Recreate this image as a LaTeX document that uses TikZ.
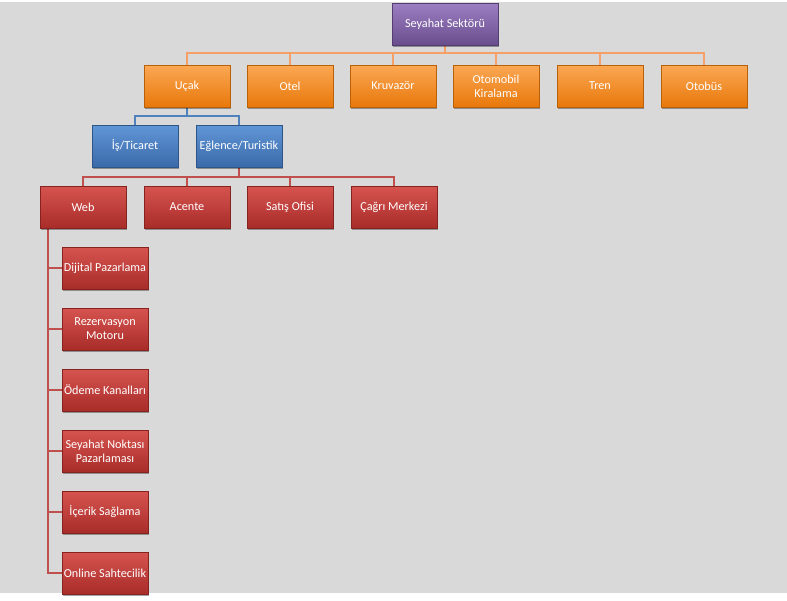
\documentclass[tikz,border=0pt]{standalone}
\usepackage{fontspec}
\setmainfont{Carlito}
\usetikzlibrary{shadows}
\pgfdeclarelayer{bgfill}
\pgfdeclarelayer{lines}
\pgfsetlayers{bgfill,lines,main}
\definecolor{bg}{HTML}{D9D9D9}
\definecolor{orT}{HTML}{FBA855}
\definecolor{orB}{HTML}{E8780A}
\definecolor{puT}{HTML}{9C7EC2}
\definecolor{puB}{HTML}{694E8D}
\definecolor{blT}{HTML}{6196D6}
\definecolor{blB}{HTML}{3A6AAA}
\definecolor{reT}{HTML}{D65450}
\definecolor{reB}{HTML}{A82C28}
\definecolor{orL}{HTML}{F4A066}
\definecolor{blL}{HTML}{4F81BD}
\definecolor{reL}{HTML}{C0504D}
\tikzset{
  x=1pt, y=-1pt,
  box/.style={minimum width=86pt, minimum height=42pt, inner sep=1pt,
    align=center, text=white, font=\fontsize{12.2}{14}\selectfont,
    draw=#1B!80!black, line width=0.4pt,
    top color=#1T, bottom color=#1B,
    drop shadow={shadow xshift=1pt, shadow yshift=-2pt, opacity=0.35, fill=black}},
  conn/.style={draw=#1, line width=1.6pt},
}
\begin{document}
\begin{tikzpicture}
\begin{pgfonlayer}{bgfill}
\fill[white] (0,0) rectangle (787,600);
\fill[bg] (0,2) rectangle (787,593);
\end{pgfonlayer}
\useasboundingbox (0,0) rectangle (787,600);
\node[box=pu, minimum width=106pt] (root) at (445,24) {Seyahat Sektörü};
\node[box=or] (ucak) at (187,86) {Uçak};
\node[box=or] (otel) at (290,86) {Otel};
\node[box=or] (kruv) at (393,86) {Kruvazör};
\node[box=or] (oto) at (496,86) {Otomobil\\Kiralama};
\node[box=or] (tren) at (600,86) {Tren};
\node[box=or] (otob) at (704,86) {Otobüs};
\node[box=bl] (is) at (135,146) {İş/Ticaret};
\node[box=bl] (egl) at (239,146) {Eğlence/Turistik};
\node[box=re] (web) at (83,207) {Web};
\node[box=re] (acente) at (187,207) {Acente};
\node[box=re] (satis) at (290,207) {Satış Ofisi};
\node[box=re] (cagri) at (394,207) {Çağrı Merkezi};
\node[box=re] (dij) at (105,268) {Dijital Pazarlama};
\node[box=re] (rez) at (105,329) {Rezervasyon\\Motoru};
\node[box=re] (ode) at (105,390) {Ödeme Kanalları};
\node[box=re] (sey) at (105,451) {Seyahat Noktası\\Pazarlaması};
\node[box=re] (ice) at (105,512) {İçerik Sağlama};
\node[box=re] (onl) at (105,573) {Online Sahtecilik};
\begin{pgfonlayer}{lines}
\draw[conn=orL] (root.south) -- ++(0,8) -| (ucak.north);
\foreach \n in {otel,kruv,oto,tren,otob}{
  \draw[conn=orL] (root.south) ++(0,8) -| (\n.north);
}
\draw[conn=blL] (ucak.south) -- ++(0,9) -| (is.north);
\draw[conn=blL] (ucak.south) ++(0,9) -| (egl.north);
\draw[conn=reL] (egl.south) -- ++(0,10) -| (web.north);
\foreach \n in {acente,satis,cagri}{
  \draw[conn=reL] (egl.south) ++(0,10) -| (\n.north);
}
\coordinate (wv) at ([xshift=-35pt]web.south);
\draw[conn=reL] (wv) |- (onl.west);
\foreach \n in {dij,rez,ode,sey,ice}{
  \draw[conn=reL] (wv |- \n.west) -- (\n.west);
}
\end{pgfonlayer}
\end{tikzpicture}
\end{document}
